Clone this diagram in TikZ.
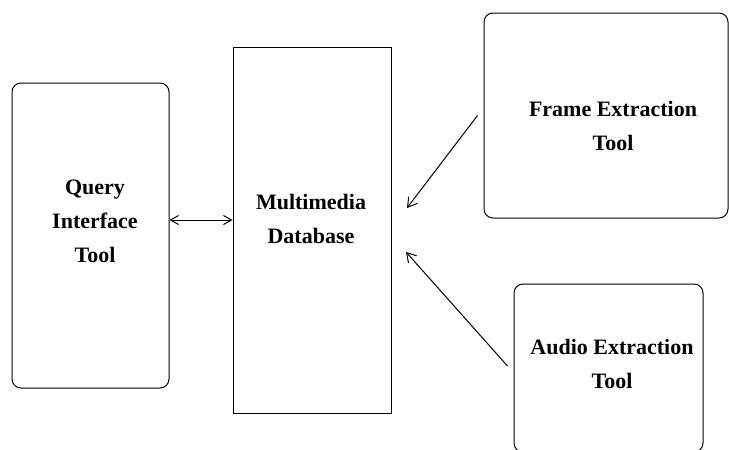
\documentclass[tikz,border=0pt]{standalone}
\usepackage{fontspec}
\setmainfont{Liberation Serif}
\usetikzlibrary{arrows.meta}
\begin{document}
\begin{tikzpicture}[x=1pt,y=-1pt,
  box/.style={draw, line width=1pt, inner sep=0pt},
  rbox/.style={box, rounded corners=9pt},
  lbl/.style={font=\fontsize{22}{34}\selectfont\bfseries, align=center, inner sep=0pt},
  conn/.style={line width=1pt, arrows={-Straight Barb[length=9pt,width=11pt]}},
  dconn/.style={line width=1pt, arrows={Straight Barb[length=8pt,width=9pt]-Straight Barb[length=8pt,width=9pt]}}]
\useasboundingbox (0,0) rectangle (729,450);
% boxes
\node[rbox, minimum width=157pt, minimum height=305pt] (query) at (90.5,235.5) {};
\node[box, minimum width=158pt, minimum height=366pt] (mm) at (312,230) {};
\node[rbox, minimum width=244pt, minimum height=205pt] (frame) at (606,115.5) {};
\node[rbox, minimum width=189pt, minimum height=168pt] (audio) at (608.5,368) {};
% labels
\node[lbl] (qtxt) at (95,221) {Query\\Interface\\Tool};
\node[lbl] (mtxt) at (311,219) {Multimedia\\Database};
\node[lbl] (ftxt) at (613,126) {Frame Extraction\\Tool};
\node[lbl] (atxt) at (612,364) {Audio Extraction\\Tool};
% connectors
\coordinate (qa) at (0,220);
\coordinate (fend) at (407,208);
\coordinate (aend) at (406,252);
\draw[dconn] (query.east |- qa) -- (mm.west |- qa);
\draw[conn] ([xshift=-6pt]frame.west) -- (fend);
\draw[conn] ([xshift=-6pt,yshift=2pt]audio.west) -- (aend);
\end{tikzpicture}
\end{document}
